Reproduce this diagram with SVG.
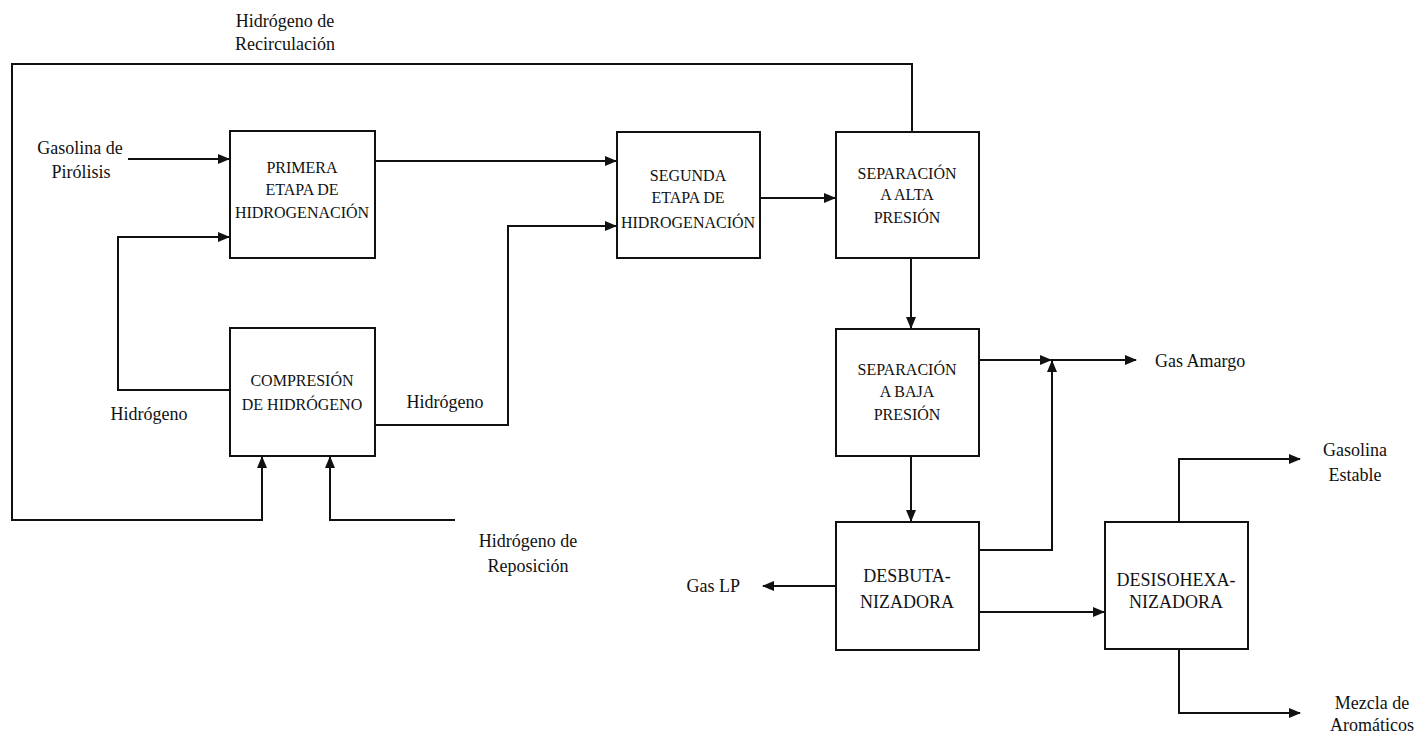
<svg xmlns="http://www.w3.org/2000/svg" width="1419" height="736" viewBox="0 0 1419 736">
<style>
.box{fill:#fff;stroke:#111;stroke-width:2}
.c{fill:none;stroke:#111;stroke-width:2}
.t{font-family:"Liberation Serif","Times New Roman",serif;font-size:16px;fill:#111;text-anchor:middle}
.tl{font-family:"Liberation Serif","Times New Roman",serif;font-size:18px;fill:#111;text-anchor:middle}
.st{text-anchor:start}
.en{text-anchor:end}
</style>
<defs>
<marker id="ar" markerUnits="userSpaceOnUse" markerWidth="12" markerHeight="10" refX="11" refY="5" orient="auto">
<path d="M0,0 L12,5 L0,10 z" fill="#111"/>
</marker>
</defs>
<rect width="1419" height="736" fill="#fff"/>
<g id="connectors">
<path class="c" d="M912,131 V64 H12 V520 H262 V457" marker-end="url(#ar)"/>
<path class="c" d="M455,520 H330 V457" marker-end="url(#ar)"/>
<path class="c" d="M128,159 H229" marker-end="url(#ar)"/>
<path class="c" d="M230,390 H118 V237 H229" marker-end="url(#ar)"/>
<path class="c" d="M375,161 H616" marker-end="url(#ar)"/>
<path class="c" d="M375,425 H508 V226 H616" marker-end="url(#ar)"/>
<path class="c" d="M760,198 H835" marker-end="url(#ar)"/>
<path class="c" d="M911,258 V328" marker-end="url(#ar)"/>
<path class="c" d="M979,360 H1051" marker-end="url(#ar)"/>
<path class="c" d="M1051,360 H1136" marker-end="url(#ar)"/>
<path class="c" d="M979,550 H1052 V361" marker-end="url(#ar)"/>
<path class="c" d="M911,456 V521" marker-end="url(#ar)"/>
<path class="c" d="M836,586 H763" marker-end="url(#ar)"/>
<path class="c" d="M979,612 H1104" marker-end="url(#ar)"/>
<path class="c" d="M1179,522 V459 H1300" marker-end="url(#ar)"/>
<path class="c" d="M1179,649 V713 H1300" marker-end="url(#ar)"/>
</g>
<g id="labels">
<text class="tl" x="285" y="27">Hidrógeno de</text>
<text class="tl" x="285" y="50">Recirculación</text>
<text class="tl" x="80" y="154">Gasolina de</text>
<text class="tl" x="81" y="178">Pirólisis</text>
<text class="tl" x="149" y="420">Hidrógeno</text>
<text class="tl" x="445" y="408">Hidrógeno</text>
<text class="tl" x="528" y="547">Hidrógeno de</text>
<text class="tl" x="528" y="572">Reposición</text>
<text class="tl en" x="740" y="592">Gas LP</text>
<text class="tl st" x="1155" y="367">Gas Amargo</text>
<text class="tl" x="1355" y="456">Gasolina</text>
<text class="tl" x="1355" y="481">Estable</text>
<text class="tl" x="1372" y="709">Mezcla de</text>
<text class="tl" x="1372" y="731">Aromáticos</text>
</g>
<g id="primera">
<rect class="box" x="230" y="131" width="145" height="127"/>
<text class="t" x="302" y="173">PRIMERA</text>
<text class="t" x="302" y="195">ETAPA DE</text>
<text class="t" x="302" y="218">HIDROGENACIÓN</text>
</g>
<g id="segunda">
<rect class="box" x="617" y="132" width="143" height="126"/>
<text class="t" x="688" y="181">SEGUNDA</text>
<text class="t" x="688" y="203">ETAPA DE</text>
<text class="t" x="688" y="228">HIDROGENACIÓN</text>
</g>
<g id="alta">
<rect class="box" x="836" y="132" width="143" height="126"/>
<text class="t" x="907" y="179">SEPARACIÓN</text>
<text class="t" x="907" y="200">A ALTA</text>
<text class="t" x="907" y="223">PRESIÓN</text>
</g>
<g id="compresion">
<rect class="box" x="230" y="328" width="145" height="128"/>
<text class="t" x="302" y="386">COMPRESIÓN</text>
<text class="t" x="302" y="410">DE HIDRÓGENO</text>
</g>
<g id="baja">
<rect class="box" x="836" y="329" width="143" height="127"/>
<text class="t" x="907" y="375">SEPARACIÓN</text>
<text class="t" x="907" y="397">A BAJA</text>
<text class="t" x="907" y="420">PRESIÓN</text>
</g>
<g id="desbutanizadora">
<rect class="box" x="836" y="522" width="143" height="128"/>
<text class="tl" x="907" y="582">DESBUTA-</text>
<text class="tl" x="907" y="608">NIZADORA</text>
</g>
<g id="desisohexanizadora">
<rect class="box" x="1105" y="522" width="143" height="127"/>
<text class="tl" x="1176" y="586">DESISOHEXA-</text>
<text class="tl" x="1176" y="608">NIZADORA</text>
</g>
</svg>
